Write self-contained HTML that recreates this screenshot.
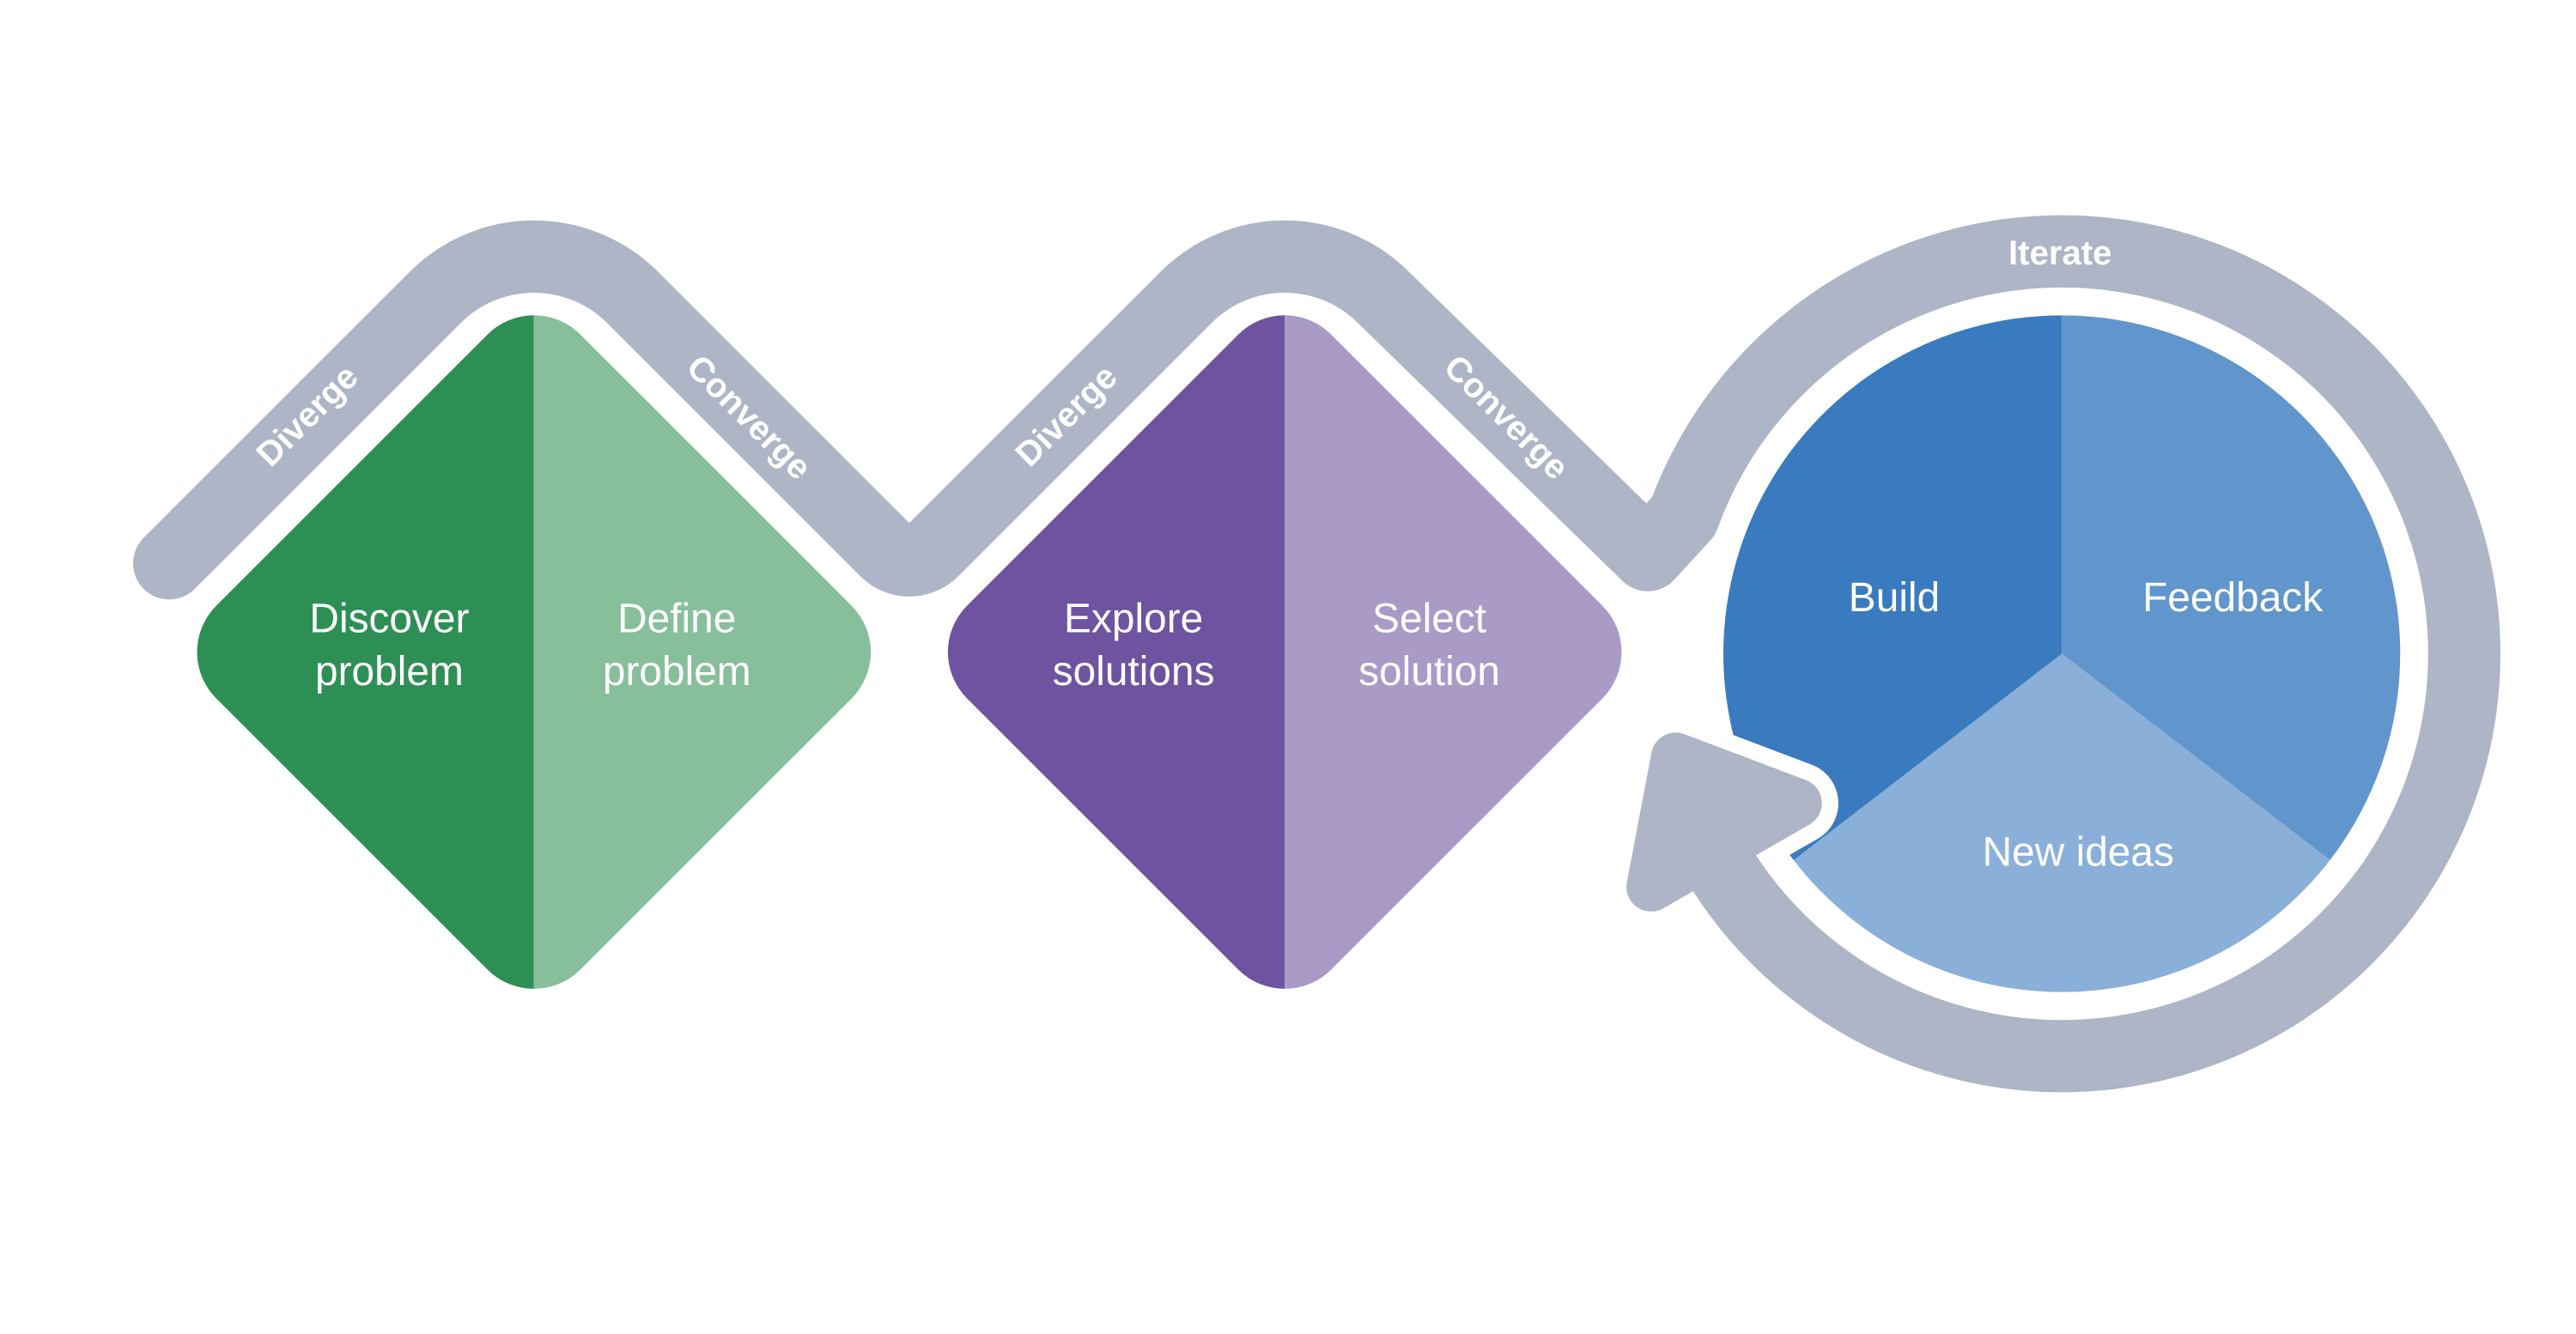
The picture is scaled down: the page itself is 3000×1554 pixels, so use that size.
<!DOCTYPE html>
<html><head><meta charset="utf-8"><style>
html,body{margin:0;padding:0;background:#fff;}
svg{display:block;}
text{font-family:"Liberation Sans",sans-serif;fill:#fff;}
</style></head><body>
<svg width="3000" height="1554" viewBox="0 0 1568 812.2" xmlns="http://www.w3.org/2000/svg">
<defs>
<clipPath id="d1"><rect x="168.3" y="240.3" width="313.4" height="313.4" rx="40" transform="rotate(45 325 397)"/></clipPath>
<clipPath id="d2"><rect x="625.3" y="240.3" width="313.4" height="313.4" rx="40" transform="rotate(45 782 397)"/></clipPath>
</defs>
<!-- diamonds -->
<g clip-path="url(#d1)">
<rect x="100" y="150" width="225" height="500" fill="#2e8f55"/>
<rect x="325" y="150" width="225" height="500" fill="#87bf9a"/>
</g>
<g clip-path="url(#d2)">
<rect x="557" y="150" width="225" height="500" fill="#6e53a0"/>
<rect x="782" y="150" width="225" height="500" fill="#a99ac6"/>
</g>
<!-- pie -->
<path d="M1255,398 L1255,192 A206,206 0 0 1 1418.2,523.7 Z" fill="#6096cb"/>
<path d="M1255,398 L1418.2,523.7 A206,206 0 0 1 1091.8,523.7 Z" fill="#8aafd8"/>
<path d="M1255,398 L1091.8,523.7 A206,206 0 0 1 1255,192 Z" fill="#3a7bbf"/>
<!-- arrowhead white outline -->
<polygon points="1020,461 1094,489 1005,540" fill="#fff" stroke="#fff" stroke-width="50" stroke-linejoin="round"/>
<!-- zigzag path + ring -->
<path d="M103,343 L264.9,181.1 A85,85 0 0 1 385.1,181.1 L539.4,335.4 A20,20 0 0 0 567.6,335.4 L721.9,181.1 A85,85 0 0 1 842.1,181.1 L1003,338 L1024.8,314.2 A245,245 0 1 1 1047.2,527.8" fill="none" stroke="#adb5c6" stroke-width="44" stroke-linecap="butt" stroke-linejoin="round"/>
<circle cx="103" cy="343" r="22" fill="#adb5c6"/>
<!-- arrowhead -->
<polygon points="1020,461 1094,489 1005,540" fill="#adb5c6" stroke="#adb5c6" stroke-width="30" stroke-linejoin="round"/>
<!-- labels -->
<g font-size="21" font-weight="bold" text-anchor="middle">
<text transform="translate(192,258) rotate(-45)">Diverge</text>
<text transform="translate(451,259) rotate(45)">Converge</text>
<text transform="translate(654,258) rotate(-45)">Diverge</text>
<text transform="translate(912,259) rotate(45)">Converge</text>
<text x="1254" y="161">Iterate</text>
</g>
<g font-size="25" text-anchor="middle">
<text x="237" y="385">Discover</text><text x="237" y="417">problem</text>
<text x="412" y="385">Define</text><text x="412" y="417">problem</text>
<text x="690" y="385">Explore</text><text x="690" y="417">solutions</text>
<text x="870" y="385">Select</text><text x="870" y="417">solution</text>
<text x="1153" y="372">Build</text>
<text x="1359" y="372">Feedback</text>
<text x="1265" y="527">New ideas</text>
</g>
</svg>
</body></html>
